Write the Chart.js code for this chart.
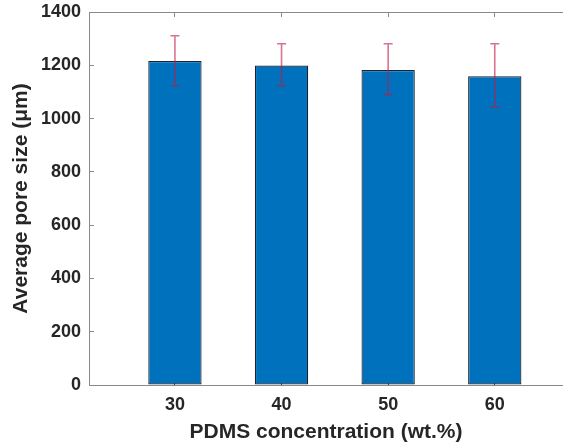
<!DOCTYPE html>
<html>
<head>
<meta charset="utf-8">
<script src="https://cdn.jsdelivr.net/npm/chart.js@4"></script>
<style>
  html, body { margin: 0; padding: 0; background: #fff; overflow: hidden; }
  #wrap { width: 563px; height: 447px; }
</style>
</head>
<body>
<div id="wrap"><canvas id="myChart" width="563" height="447"></canvas></div>
<script>
// PDMS concentration (wt.%) categories, placed at x = 1..4
const categories = ["30", "40", "50", "60"];
const xPos = [1, 2, 3, 4];
// average pore size (um) and error bar ends
const poreSize = [1216, 1199, 1182, 1159];
const errUpper = [1311, 1281, 1281, 1281];
const errLower = [1123, 1123, 1090, 1043];
const yTicks = [0, 200, 400, 600, 800, 1000, 1200, 1400];

const font = { family: "'Liberation Sans', Arial, sans-serif", weight: "bold" };
const axisColor = "#8a8a8a";
const textColor = "#262626";

const errorBars = {
  id: "errorBars",
  afterDatasetsDraw(chart) {
    const ctx = chart.ctx;
    const x = chart.scales.x, y = chart.scales.y;
    ctx.save();
    ctx.strokeStyle = "rgba(190, 25, 65, 0.6)";
    ctx.lineWidth = 1.6;
    xPos.forEach((v, i) => {
      const px = x.getPixelForValue(v);
      const top = y.getPixelForValue(errUpper[i]);
      const bot = y.getPixelForValue(errLower[i]);
      ctx.beginPath();
      ctx.moveTo(px, top); ctx.lineTo(px, bot);
      ctx.moveTo(px - 4.5, top); ctx.lineTo(px + 4.5, top);
      ctx.moveTo(px - 4.5, bot); ctx.lineTo(px + 4.5, bot);
      ctx.stroke();
    });
    ctx.restore();
  }
};

const data = {
  datasets: [
    {
      label: "Average pore size",
      data: xPos.map((v, i) => ({ x: v, y: poreSize[i] })),
      backgroundColor: "#0072BD",
      borderColor: "#1a2230",
      borderWidth: 1.2,
      borderSkipped: false,
      barPercentage: 1,
      categoryPercentage: 0.5,
    },
  ],
};

const config = {
  type: "bar",
  data: data,
  options: {
    animation: false,
    responsive: false,
    layout: { padding: { top: 12, right: 0, left: 0, bottom: 0 } },
    plugins: { legend: { display: false }, tooltip: { enabled: false } },
    scales: {
      x: {
        type: "linear",
        position: "bottom",
        offset: false,
        min: 0.194,
        max: 4.64,
        z: 1,
        afterBuildTicks: (s) => { s.ticks = xPos.map((v) => ({ value: v })); },
        afterFit: (s) => { s.height = 62; s.paddingLeft = 0; s.paddingRight = 0; },
        ticks: {
          callback: (v) => categories[xPos.indexOf(v)],
          color: textColor,
          font: { ...font, size: 18 },
          padding: 14,
          maxRotation: 0,
        },
        grid: { offset: false, drawOnChartArea: false, tickLength: -5, tickColor: "#444" },
        border: { color: axisColor, width: 1 },
        title: {
          display: true,
          text: "PDMS concentration (wt.%)",
          color: textColor,
          font: { ...font, size: 21 },
          padding: { top: 0, bottom: 2 },
        },
      },
      x2: {
        type: "linear",
        position: "top",
        offset: false,
        min: 0.194,
        max: 4.64,
        afterBuildTicks: (s) => { s.ticks = xPos.map((v) => ({ value: v })); },
        afterFit: (s) => { s.height = 0; s.paddingLeft = 0; s.paddingRight = 0; },
        ticks: { display: false },
        grid: { offset: false, drawOnChartArea: false, tickLength: -5, tickColor: axisColor },
        border: { color: axisColor, width: 1 },
      },
      y: {
        min: 0,
        max: 1400,
        z: 1,
        afterBuildTicks: (s) => { s.ticks = yTicks.map((v) => ({ value: v })); },
        afterFit: (s) => { s.width = 89; s.paddingTop = 0; s.paddingBottom = 0; },
        ticks: {
          callback: (v) => String(v),
          color: textColor,
          font: { ...font, size: 18 },
          padding: 13,
        },
        grid: { drawOnChartArea: false, tickLength: -5, tickColor: axisColor },
        border: { color: axisColor, width: 1 },
        title: {
          display: true,
          text: "Average pore size (μm)",
          color: textColor,
          font: { ...font, size: 21 },
          padding: { top: 9, bottom: 0 },
        },
      },
    },
  },
  plugins: [errorBars],
};

const myChart = new Chart(document.getElementById("myChart"), config);
</script>
</body>
</html>
